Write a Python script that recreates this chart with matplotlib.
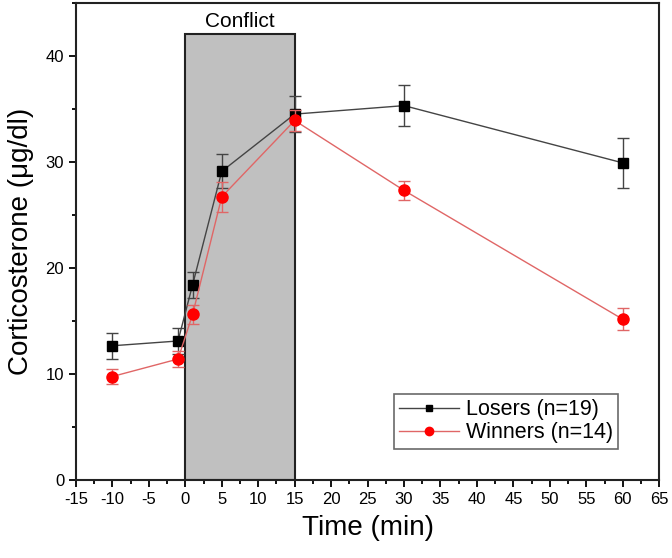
import matplotlib
matplotlib.use("Agg")
import matplotlib.pyplot as plt
from matplotlib.ticker import MultipleLocator
from matplotlib.patches import Rectangle
from matplotlib.lines import Line2D

plt.rcParams['font.family'] = ['Liberation Sans', 'DejaVu Sans']
plt.rcParams['axes.unicode_minus'] = False

time = [-10, -1, 1, 5, 15, 30, 60]
losers = [12.65, 13.1, 18.4, 29.1, 34.5, 35.3, 29.9]
losers_err = [1.25, 1.2, 1.2, 1.6, 1.7, 1.9, 2.35]
winners = [9.75, 11.4, 15.6, 26.7, 33.9, 27.3, 15.15]
winners_err = [0.75, 0.8, 0.9, 1.4, 1.0, 0.9, 1.05]
conflict_start, conflict_end, conflict_top = 0, 15, 42.1

fig = plt.figure(figsize=(6.72, 5.58), dpi=100)
ax = fig.add_axes([0.113, 0.140, 0.868, 0.855])

ax.add_patch(Rectangle((conflict_start, 0), conflict_end - conflict_start, conflict_top,
                       facecolor='#c0c0c0', edgecolor='#222222', linewidth=1.5, zorder=1))
ax.text((conflict_start + conflict_end) / 2, conflict_top + 0.2, 'Conflict',
        ha='center', va='bottom', fontsize=15)

ax.errorbar(time, losers, yerr=losers_err, color='#444444', ecolor='#444444',
            marker='s', markersize=7, markerfacecolor='black', markeredgecolor='black',
            linewidth=1.0, elinewidth=1.0, capsize=4, capthick=1.0, zorder=3)
ax.errorbar(time, winners, yerr=winners_err, color='#e06666', ecolor='#e06666',
            marker='o', markersize=8, markerfacecolor='#ff0000', markeredgecolor='#ff0000',
            linewidth=1.0, elinewidth=1.0, capsize=4, capthick=1.0, zorder=4)

ax.set_xlim(-15, 65)
ax.set_ylim(0, 45)
ax.xaxis.set_major_locator(MultipleLocator(5))
ax.xaxis.set_minor_locator(MultipleLocator(2.5))
ax.yaxis.set_major_locator(MultipleLocator(10))
ax.yaxis.set_minor_locator(MultipleLocator(5))
ax.tick_params(axis='both', which='major', direction='out', length=5, width=1.3,
               labelsize=12, top=False, right=False)
ax.tick_params(axis='both', which='minor', direction='out', length=3, width=1.3,
               top=False, right=False)
for s in ax.spines.values():
    s.set_linewidth(1.5)
    s.set_color('#222222')

ax.set_xlabel('Time (min)', fontsize=20, labelpad=6)
ax.set_ylabel('Corticosterone (\u03bcg/dl)', fontsize=20, labelpad=8)

handles = [
    Line2D([], [], color='#444444', linewidth=1.0, marker='s', markersize=5,
           markerfacecolor='black', markeredgecolor='black'),
    Line2D([], [], color='#e06666', linewidth=1.0, marker='o', markersize=6,
           markerfacecolor='#ff0000', markeredgecolor='#ff0000'),
]
leg = ax.legend(handles, ['Losers (n=19)', 'Winners (n=14)'], loc='lower right',
                bbox_to_anchor=(0.93, 0.065), fontsize=15.5,
                frameon=True, fancybox=False, edgecolor='#444444',
                handlelength=2.8, borderpad=0.25, labelspacing=0.1, handletextpad=0.3,
                borderaxespad=0)
leg.get_frame().set_linewidth(1.2)

fig.savefig('out.png', dpi=100)
